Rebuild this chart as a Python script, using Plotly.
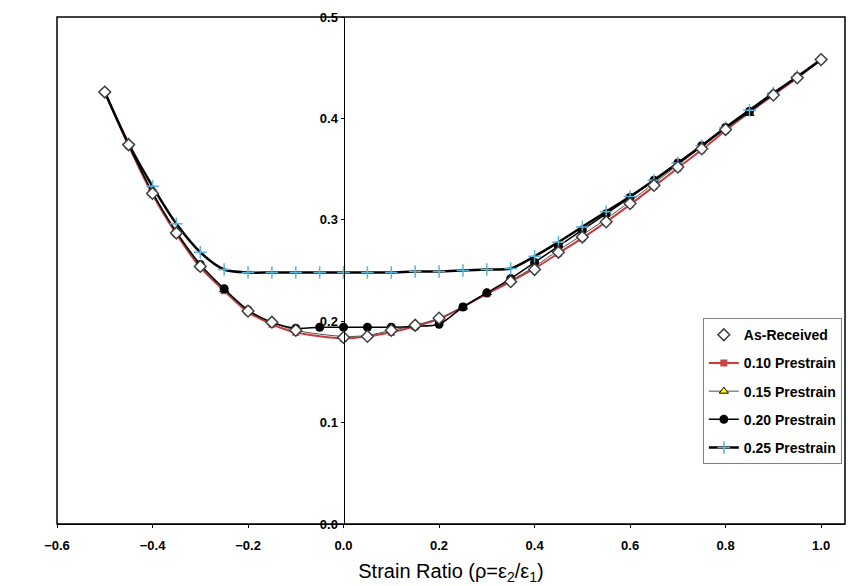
import plotly.graph_objects as go

# ---- data ----
ar_x = [-0.5, -0.45, -0.4, -0.35, -0.3, -0.2, -0.15, -0.1, 0.0, 0.05, 0.1, 0.15, 0.2,
        0.35, 0.4, 0.45, 0.5, 0.55, 0.6, 0.65, 0.7, 0.75, 0.8, 0.9, 0.95, 1.0]
ar_y = [0.426, 0.374, 0.326, 0.287, 0.254, 0.210, 0.199, 0.191, 0.184, 0.185, 0.191, 0.196, 0.203,
        0.239, 0.251, 0.268, 0.283, 0.298, 0.316, 0.334, 0.352, 0.370, 0.389, 0.423, 0.440, 0.458]

p10_x = [-0.5, -0.45, -0.4, -0.35, -0.3, -0.25, -0.2, -0.15, -0.1, 0.0, 0.05, 0.1, 0.15,
         0.2, 0.25, 0.3, 0.35, 0.4, 0.45, 0.5, 0.55, 0.6, 0.65, 0.7, 0.75, 0.8, 0.85, 0.9, 0.95, 1.0]
p10_y = [0.426, 0.373, 0.325, 0.286, 0.253, 0.230, 0.209, 0.197, 0.189, 0.183, 0.185, 0.189,
         0.195, 0.202, 0.214, 0.227, 0.239, 0.252, 0.267, 0.282, 0.298, 0.315, 0.333, 0.351, 0.369,
         0.388, 0.406, 0.423, 0.440, 0.458]

p15_x = [-0.5, -0.45, -0.4, -0.35, -0.3, -0.25, -0.2, -0.15, -0.1, 0.0, 0.05, 0.1, 0.15,
         0.2, 0.25, 0.3, 0.35, 0.4, 0.45, 0.5, 0.55, 0.6, 0.65, 0.7, 0.75, 0.8, 0.85, 0.9, 0.95, 1.0]
p15_y = [0.426, 0.374, 0.326, 0.287, 0.254, 0.231, 0.210, 0.199, 0.191, 0.185, 0.186, 0.191,
         0.196, 0.203, 0.214, 0.228, 0.240, 0.254, 0.270, 0.285, 0.301, 0.318, 0.336, 0.354, 0.372,
         0.390, 0.405, 0.424, 0.441, 0.458]

full_x = [-0.5, -0.45, -0.4, -0.35, -0.3, -0.25, -0.2, -0.15, -0.1, -0.05, 0.0, 0.05, 0.1, 0.15,
          0.2, 0.25, 0.3, 0.35, 0.4, 0.45, 0.5, 0.55, 0.6, 0.65, 0.7, 0.75, 0.8, 0.85, 0.9, 0.95, 1.0]
p20_y = [0.426, 0.374, 0.327, 0.288, 0.256, 0.232, 0.211, 0.199, 0.193, 0.194, 0.194, 0.194, 0.194,
         0.195, 0.197, 0.214, 0.228, 0.242, 0.258, 0.274, 0.290, 0.306, 0.322, 0.339, 0.356, 0.373,
         0.391, 0.407, 0.424, 0.441, 0.458]
p25_y = [0.426, 0.375, 0.333, 0.296, 0.268, 0.251, 0.248, 0.248, 0.248, 0.248, 0.248, 0.248, 0.248,
         0.249, 0.249, 0.250, 0.251, 0.252, 0.264, 0.278, 0.293, 0.308, 0.323, 0.339, 0.356, 0.373,
         0.391, 0.408, 0.425, 0.441, 0.458]

x_ticks = [-0.6, -0.4, -0.2, 0.0, 0.2, 0.4, 0.6, 0.8, 1.0]
y_ticks = [0.0, 0.1, 0.2, 0.3, 0.4, 0.5]

FONT = "Liberation Sans, Arial, sans-serif"

fig = go.Figure()

fig.add_trace(go.Scatter(
    x=p10_x, y=p10_y, name="0.10 Prestrain", mode="lines+markers", yaxis="y2", legendgroup="g10",
    line=dict(color="#C83C3C", width=2, shape="spline", smoothing=0.8),
    marker=dict(symbol="square", size=7, color="#C84646"), legendrank=2))
fig.add_trace(go.Scatter(
    x=p15_x, y=p15_y, name="0.15 Prestrain", mode="lines+markers", yaxis="y2", legendgroup="g15",
    line=dict(color="#505050", width=1, shape="spline", smoothing=0.8),
    marker=dict(symbol="triangle-up", size=8, color="#FFFF00", line=dict(color="black", width=1)),
    legendrank=3))
fig.add_trace(go.Scatter(
    x=full_x, y=p20_y, name="0.20 Prestrain", mode="lines+markers", yaxis="y2", legendgroup="g20",
    line=dict(color="black", width=1.5, shape="spline", smoothing=0.8),
    marker=dict(symbol="circle", size=9, color="black"), legendrank=4))
fig.add_trace(go.Scatter(
    x=full_x, y=p25_y, name="0.25 Prestrain", mode="lines+markers", yaxis="y2", legendgroup="g25",
    line=dict(color="black", width=2.5, shape="spline", smoothing=0.8),
    marker=dict(symbol="cross-thin", size=9, color="#5AB4D8",
                line=dict(color="#5AB4D8", width=1.5)), legendrank=5))
fig.add_trace(go.Scatter(
    x=ar_x, y=ar_y, name="As-Received", mode="markers", yaxis="y2", legendgroup="gar",
    marker=dict(symbol="diamond", size=9, color="white", line=dict(color="#404040", width=1.5)),
    legendrank=1))

fig.update_layout(
    width=848, height=586,
    margin=dict(l=57, r=3, t=17, b=62),
    paper_bgcolor="white", plot_bgcolor="white",
    font=dict(family=FONT, color="black"),
    showlegend=True,
    legend=dict(x=0.996, y=0.406, xanchor="right", yanchor="top",
                bgcolor="white", bordercolor="#808080", borderwidth=1,
                font=dict(family=FONT, size=14, color="black", weight="bold"),
                tracegroupgap=7, itemwidth=30),
    xaxis=dict(range=[-0.6, 1.05], tickvals=x_ticks, tickformat=".1f",
               showgrid=False, zeroline=False, showline=True, linecolor="black", linewidth=1,
               ticks="outside", ticklen=3, tickcolor="black", ticklabelstandoff=6,
               tickfont=dict(family=FONT, size=13, weight="bold", color="black"),
               title=dict(text="Strain Ratio (ρ=ε<sub>2</sub>/ε<sub>1</sub>)",
                          font=dict(family=FONT, size=20, color="black"), standoff=12)),
    yaxis=dict(range=[0, 0.5], showticklabels=False, showgrid=False, zeroline=False,
               showline=False, ticks="",
               title=dict(text="Effective Limit Strain",
                          font=dict(family=FONT, size=20, color="black"), standoff=18)),
    yaxis2=dict(range=[0, 0.5], overlaying="y", anchor="free", position=0.6 / 1.65, side="left",
                tickvals=y_ticks, tickformat=".1f",
                showgrid=False, zeroline=False, showline=True, linecolor="black", linewidth=1,
                ticks="outside", ticklen=3, tickcolor="black",
                tickfont=dict(family=FONT, size=13, weight="bold", color="black")),
    shapes=[dict(type="rect", xref="paper", yref="paper", x0=0, y0=0, x1=1, y1=1,
                 line=dict(color="black", width=1.5), fillcolor="rgba(0,0,0,0)", layer="above")],
)

fig.write_html("out.html")
